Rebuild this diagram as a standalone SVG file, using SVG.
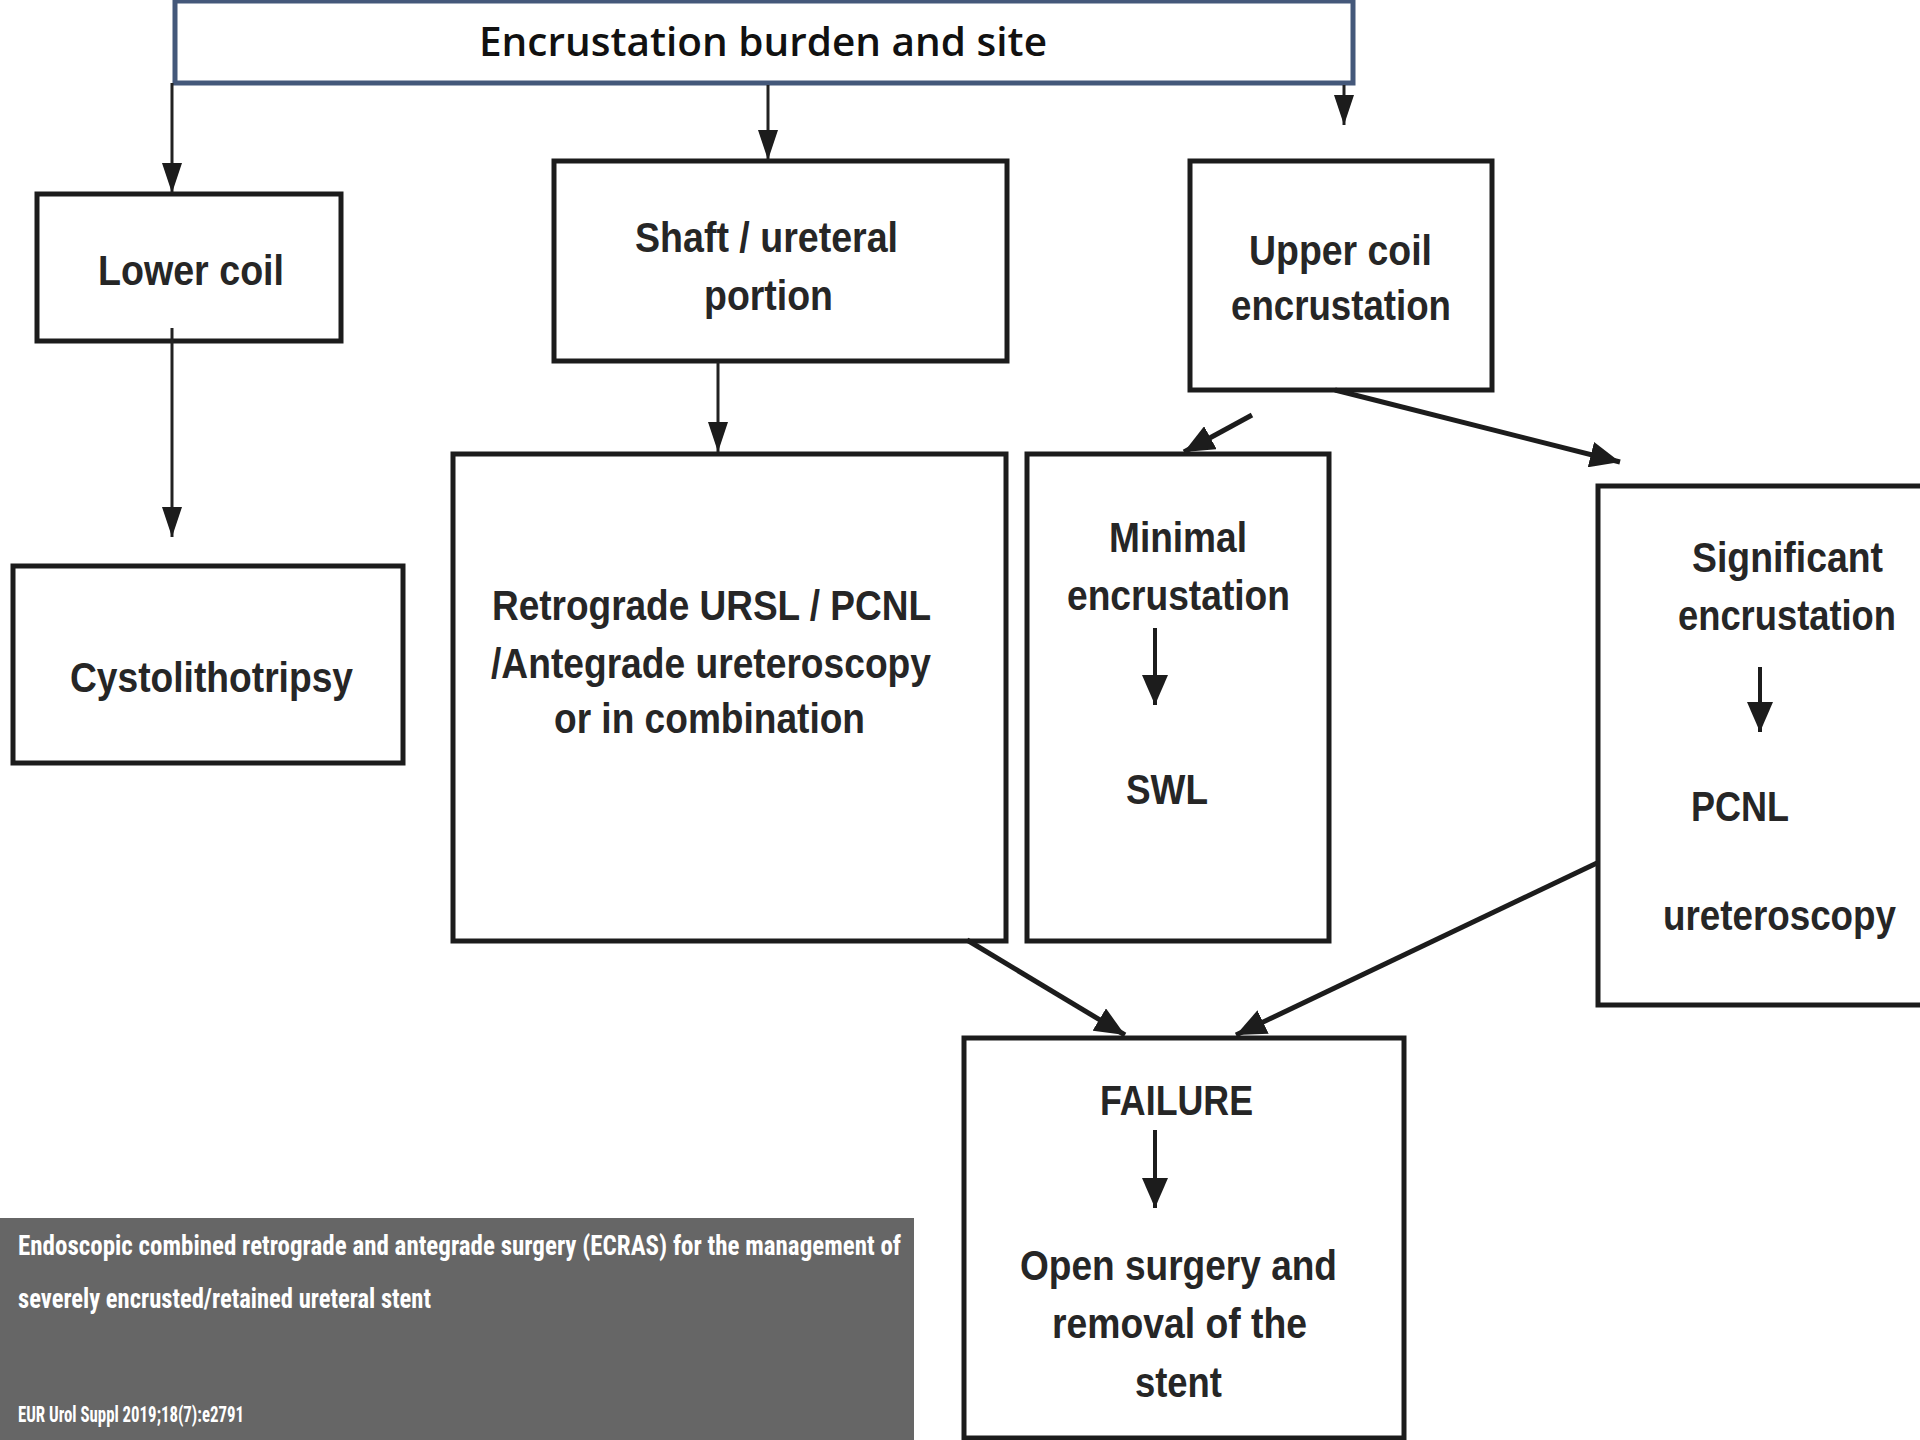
<svg xmlns="http://www.w3.org/2000/svg" width="1920" height="1440" viewBox="0 0 1920 1440">
<defs>
<style>
.box{fill:#ffffff;stroke:#1c1c1c;stroke-width:5}
.hdr{fill:#ffffff;stroke:#44587a;stroke-width:5}
.t{font-family:"Liberation Sans",Arial,sans-serif;font-weight:bold;font-size:42px;fill:#262626;text-anchor:start}
.h{font-family:"Open Sans","Liberation Sans",sans-serif;font-weight:600;font-size:40px;fill:#111111}
.cap{font-family:"Liberation Sans Narrow","Roboto Condensed","Liberation Sans",sans-serif;font-weight:bold;fill:#ffffff}
.thin{stroke:#222222;stroke-width:3;fill:none}
.thick{stroke:#1c1c1c;stroke-width:5;fill:none}
.mid{stroke:#1c1c1c;stroke-width:4;fill:none}
</style>
<marker id="ah" viewBox="0 0 30 20" refX="30" refY="10" markerWidth="30" markerHeight="20" markerUnits="userSpaceOnUse" orient="auto">
<path d="M0,0 L30,10 L0,20 z" fill="#1c1c1c"/>
</marker>
<marker id="ahb" viewBox="0 0 30 26" refX="30" refY="13" markerWidth="30" markerHeight="26" markerUnits="userSpaceOnUse" orient="auto">
<path d="M0,0 L30,13 L0,26 z" fill="#1c1c1c"/>
</marker>
</defs>
<rect x="0" y="0" width="1920" height="1440" fill="#ffffff"/>

<g id="header">
<rect class="hdr" x="175" y="1" width="1178" height="82"/>
<text class="h" x="479" y="56" textLength="568" lengthAdjust="spacingAndGlyphs">Encrustation burden and site</text>
</g>

<g id="lower-coil">
<rect class="box" x="37" y="194" width="304" height="147"/>
<text class="t" x="98" y="285" textLength="186" lengthAdjust="spacingAndGlyphs">Lower coil</text>
</g>

<g id="cystolithotripsy">
<rect class="box" x="13" y="566" width="390" height="197"/>
<text class="t" x="70" y="692" textLength="283" lengthAdjust="spacingAndGlyphs">Cystolithotripsy</text>
</g>

<g id="shaft">
<rect class="box" x="554" y="161" width="453" height="200"/>
<text class="t" x="635" y="252" textLength="263" lengthAdjust="spacingAndGlyphs">Shaft / ureteral</text>
<text class="t" x="704" y="310" textLength="129" lengthAdjust="spacingAndGlyphs">portion</text>
</g>

<g id="retrograde">
<rect class="box" x="453" y="454" width="553" height="487"/>
<text class="t" x="492" y="620" textLength="439" lengthAdjust="spacingAndGlyphs">Retrograde URSL / PCNL</text>
<text class="t" x="491" y="678" textLength="440" lengthAdjust="spacingAndGlyphs">/Antegrade ureteroscopy</text>
<text class="t" x="554" y="733" textLength="311" lengthAdjust="spacingAndGlyphs">or in combination</text>
</g>

<g id="upper-coil">
<rect class="box" x="1190" y="161" width="302" height="229"/>
<text class="t" x="1249" y="265" textLength="183" lengthAdjust="spacingAndGlyphs">Upper coil</text>
<text class="t" x="1231" y="320" textLength="220" lengthAdjust="spacingAndGlyphs">encrustation</text>
</g>

<g id="minimal">
<rect class="box" x="1027" y="454" width="302" height="487"/>
<text class="t" x="1109" y="552" textLength="138" lengthAdjust="spacingAndGlyphs">Minimal</text>
<text class="t" x="1067" y="610" textLength="223" lengthAdjust="spacingAndGlyphs">encrustation</text>
<line class="mid" x1="1155" y1="628" x2="1155" y2="705" marker-end="url(#ahb)"/>
<text class="t" x="1126" y="804" textLength="82" lengthAdjust="spacingAndGlyphs">SWL</text>
</g>

<g id="significant">
<rect class="box" x="1598" y="486" width="340" height="519"/>
<text class="t" x="1692" y="572" textLength="191" lengthAdjust="spacingAndGlyphs">Significant</text>
<text class="t" x="1678" y="630" textLength="218" lengthAdjust="spacingAndGlyphs">encrustation</text>
<line class="mid" x1="1760" y1="667" x2="1760" y2="732" marker-end="url(#ahb)"/>
<text class="t" x="1691" y="821" textLength="98" lengthAdjust="spacingAndGlyphs">PCNL</text>
<text class="t" x="1663" y="930" textLength="233" lengthAdjust="spacingAndGlyphs">ureteroscopy</text>
</g>

<g id="failure">
<rect class="box" x="964" y="1038" width="440" height="400"/>
<text class="t" x="1100" y="1115" textLength="153" lengthAdjust="spacingAndGlyphs">FAILURE</text>
<line class="mid" x1="1155" y1="1130" x2="1155" y2="1208" marker-end="url(#ahb)"/>
<text class="t" x="1020" y="1280" textLength="317" lengthAdjust="spacingAndGlyphs">Open surgery and</text>
<text class="t" x="1052" y="1338" textLength="255" lengthAdjust="spacingAndGlyphs">removal of the</text>
<text class="t" x="1135" y="1397" textLength="87" lengthAdjust="spacingAndGlyphs">stent</text>
</g>

<g id="connectors">
<line class="thin" x1="172" y1="83" x2="172" y2="193" marker-end="url(#ah)"/>
<line class="thin" x1="768" y1="85" x2="768" y2="160" marker-end="url(#ah)"/>
<line class="thin" x1="1344" y1="85" x2="1344" y2="125" marker-end="url(#ah)"/>
<line class="thin" x1="172" y1="328" x2="172" y2="537" marker-end="url(#ah)"/>
<line class="thin" x1="718" y1="362" x2="718" y2="452" marker-end="url(#ah)"/>
<line class="thick" x1="1252" y1="415" x2="1184" y2="452" marker-end="url(#ahb)"/>
<line class="thick" x1="1335" y1="390" x2="1620" y2="462" marker-end="url(#ahb)"/>
<line class="thick" x1="967" y1="940" x2="1125" y2="1035" marker-end="url(#ahb)"/>
<line class="thick" x1="1597" y1="863" x2="1236" y2="1035" marker-end="url(#ahb)"/>
</g>

<g id="caption">
<rect x="0" y="1218" width="914" height="222" fill="#666666"/>
<text class="cap" x="18" y="1255" font-size="28" textLength="883" lengthAdjust="spacingAndGlyphs">Endoscopic combined retrograde and antegrade surgery (ECRAS) for the management of</text>
<text class="cap" x="18" y="1308" font-size="28" textLength="413" lengthAdjust="spacingAndGlyphs">severely encrusted/retained ureteral stent</text>
<text class="cap" x="18" y="1422" font-size="22" textLength="226" lengthAdjust="spacingAndGlyphs">EUR Urol Suppl 2019;18(7):e2791</text>
</g>
</svg>
